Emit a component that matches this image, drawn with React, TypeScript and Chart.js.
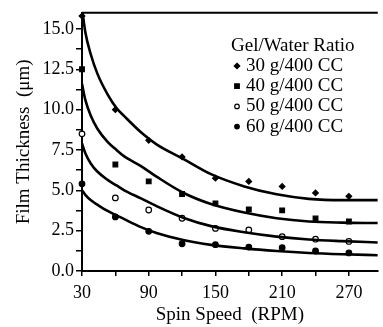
import React, { useEffect, useRef } from 'react';
import { Chart, registerables } from 'chart.js';

Chart.register(...registerables);

// measured spin speeds (RPM)
const speeds = [30, 60, 90, 120, 150, 180, 210, 240, 270];
// measured film thickness (µm)
const thickness30 = [15.8, 10.0, 8.1, 7.07, 5.75, 5.55, 5.24, 4.84, 4.63];
const thickness40 = [12.5, 6.6, 5.55, 4.77, 4.19, 3.82, 3.76, 3.25, 3.07];
const thickness50 = [8.5, 4.53, 3.78, 3.27, 2.64, 2.54, 2.13, 1.97, 1.83];
const thickness60 = [5.4, 3.35, 2.46, 1.69, 1.63, 1.48, 1.44, 1.24, 1.12];

// fitted curves
const fitSpeeds = [30, 33, 38, 44, 53, 61, 68, 83, 97, 121, 146, 176, 205, 234, 264, 296];
const fit30 = [16.3, 14.8, 13.4, 12.2, 10.95, 10.1, 9.6, 8.6, 7.85, 6.95, 6.0, 5.24, 4.75, 4.47, 4.39, 4.39];
const fit40 = [11.6, 10.6, 9.6, 8.8, 8.0, 7.5, 7.1, 6.5, 5.85, 4.85, 4.15, 3.62, 3.27, 3.07, 3.0, 2.97];
const fit50 = [7.9, 7.3, 6.65, 6.15, 5.65, 5.3, 5.0, 4.5, 4.02, 3.3, 2.78, 2.4, 2.13, 1.95, 1.85, 1.77];
const fit60 = [5.0, 4.72, 4.38, 4.1, 3.72, 3.45, 3.21, 2.72, 2.36, 1.92, 1.62, 1.4, 1.24, 1.12, 1.04, 0.98];

const legendTitle = 'Gel/Water Ratio';
const seriesLabels = ['30 g/400 CC', '40 g/400 CC', '50 g/400 CC', '60 g/400 CC'];
const xTickLabels = [30, 90, 150, 210, 270];
const yTickLabels = [0, 2.5, 5, 7.5, 10, 12.5, 15];
const xTitle = 'Spin Speed  (RPM)';
const yTitle = 'Film Thickness  (\u03bcm)';

const FONT = "'Liberation Serif', 'Times New Roman', serif";
const markerStyles = ['rectRot', 'rect', 'circle', 'circle'];
const markerFills = ['#000', '#000', '#fff', '#000'];

function drawMarker(ctx: CanvasRenderingContext2D, style: string, fill: string, x: number, y: number, r: number) {
  ctx.beginPath();
  if (style === 'rect') {
    ctx.rect(x - r, y - r, 2 * r, 2 * r);
  } else if (style === 'rectRot') {
    ctx.moveTo(x, y - r * 1.2);
    ctx.lineTo(x + r * 1.2, y);
    ctx.lineTo(x, y + r * 1.2);
    ctx.lineTo(x - r * 1.2, y);
    ctx.closePath();
  } else {
    ctx.arc(x, y, r, 0, Math.PI * 2);
  }
  ctx.fillStyle = fill;
  ctx.fill();
  ctx.lineWidth = 1.2;
  ctx.strokeStyle = '#000';
  ctx.stroke();
}

const framePlugin = {
  id: 'frameAndLegend',
  afterDraw(chart: any) {
    const { ctx, chartArea } = chart;
    ctx.save();
    ctx.strokeStyle = '#000';
    ctx.lineWidth = 2;
    ctx.beginPath();
    ctx.moveTo(chartArea.left, chartArea.top);
    ctx.lineTo(chartArea.right, chartArea.top);
    ctx.stroke();

    ctx.fillStyle = '#000';
    ctx.font = `19px ${FONT}`;
    ctx.textBaseline = 'middle';
    ctx.textAlign = 'left';
    ctx.fillText(legendTitle, 231, 46);
    seriesLabels.forEach((lab, i) => {
      const y = 66 + i * 20.2;
      drawMarker(ctx, markerStyles[i], markerFills[i], 237, y, 2.3);
      ctx.fillStyle = '#000';
      ctx.fillText(lab, 246, y);
    });
    ctx.restore();
  },
};

export default function App() {
  const ref = useRef<HTMLCanvasElement>(null);
  useEffect(() => {
    if (!ref.current) return;
    const measured = [thickness30, thickness40, thickness50, thickness60];
    const fits = [fit30, fit40, fit50, fit60];
    const datasets: any[] = [];
    fits.forEach((f, i) => {
      datasets.push({
        type: 'line',
        label: seriesLabels[i] + ' fit',
        data: fitSpeeds.map((x, j) => ({ x, y: f[j] })),
        borderColor: '#000',
        borderWidth: 2.6,
        pointRadius: 0,
        cubicInterpolationMode: 'monotone',
        fill: false,
      });
    });
    measured.forEach((m, i) => {
      datasets.push({
        type: 'scatter',
        label: seriesLabels[i],
        showLine: false,
        data: speeds.map((x, j) => ({ x, y: m[j] })),
        pointStyle: markerStyles[i],
        pointRadius: markerStyles[i] === 'rect' ? 3.3 : 2.8,
        pointBackgroundColor: markerFills[i],
        pointBorderColor: '#000',
        pointBorderWidth: 1.2,
        clip: false,
      });
    });

    const chart = new Chart(ref.current, {
      type: 'scatter',
      data: { datasets },
      options: {
        animation: false,
        responsive: false,
        maintainAspectRatio: false,
        layout: { padding: { top: 10, right: 0, left: 0, bottom: 0 } },
        plugins: { legend: { display: false }, tooltip: { enabled: false } },
        scales: {
          x: {
            type: 'linear',
            min: 30,
            max: 296,
            afterFit: (s: any) => { s.height = 56; },
            grid: { drawOnChartArea: false, drawTicks: true, tickLength: 5, color: '#000', lineWidth: 1.5 },
            border: { display: true, color: '#000', width: 2 },
            ticks: {
              stepSize: 30,
              includeBounds: false,
              autoSkip: false,
              maxRotation: 0,
              color: '#000',
              padding: 6,
              font: { family: FONT, size: 18 },
              callback: (v: any) => (xTickLabels.includes(Number(v)) ? String(v) : ''),
            },
            title: { display: true, text: xTitle, color: '#000', font: { family: FONT, size: 19 }, padding: { top: 0, bottom: 1 } },
          },
          y: {
            type: 'linear',
            min: 0,
            max: 16,
            afterFit: (s: any) => { s.width = 82; },
            grid: { drawOnChartArea: false, drawTicks: true, tickLength: 6, color: '#000', lineWidth: 1.5 },
            border: { display: true, color: '#000', width: 2 },
            ticks: {
              stepSize: 1.25,
              includeBounds: false,
              autoSkip: false,
              color: '#000',
              padding: 2,
              font: { family: FONT, size: 18 },
              callback: (v: any) => (yTickLabels.includes(Number(v)) ? Number(v).toFixed(1) : ''),
            },
            title: { display: true, text: yTitle, color: '#000', font: { family: FONT, size: 19 }, padding: { top: 13, bottom: 0 } },
          },
        },
      },
      plugins: [framePlugin],
    } as any);
    return () => chart.destroy();
  }, []);

  return (
    <div style={{ position: 'fixed', left: 0, top: 0, width: 383, height: 327, background: '#fff' }}>
      <canvas ref={ref} width={383} height={327} style={{ width: 383, height: 327, display: 'block' }} />
    </div>
  );
}
